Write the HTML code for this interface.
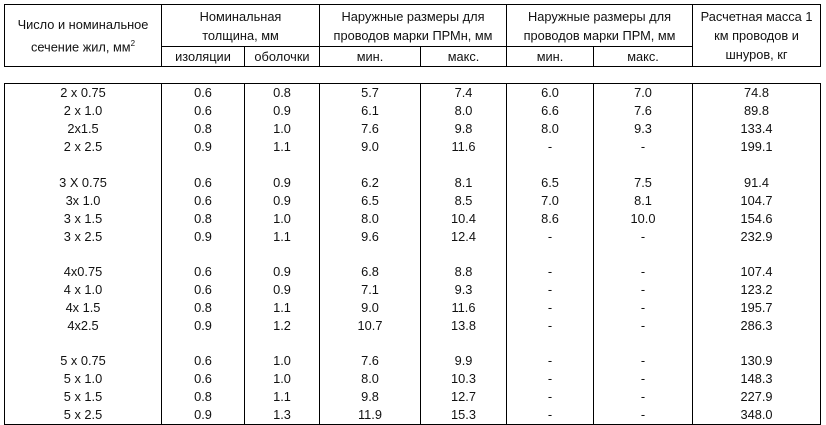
<!DOCTYPE html>
<html><head><meta charset="utf-8"><style>
body{margin:0;background:#fff;width:826px;height:424px;overflow:hidden;font-family:"Liberation Sans","DejaVu Sans",sans-serif;font-size:12.8px;color:#111}
table{position:absolute;left:4px;border-collapse:collapse;table-layout:fixed;width:817px}
td{border:1px solid #000;text-align:center;padding:0;vertical-align:middle;line-height:18px}
#h{top:4px}
#h td{line-height:19px}
#b{top:83px}
#b td{border-top:1px solid #000;border-bottom:1px solid #000}
#b tr.r td{border-top:none;border-bottom:none}
#b tr.f td{border-top:1px solid #000}
#b tr.l td{border-bottom:1px solid #000}
</style></head><body>
<table id="h">
<colgroup><col style="width:157px"><col style="width:83px"><col style="width:75px"><col style="width:101px"><col style="width:86px"><col style="width:87px"><col style="width:99px"><col style="width:128px"></colgroup>
<tr style="height:42px"><td rowspan="2">Число и номинальное<br>сечение жил, мм<sup style="font-size:8px">2</sup></td><td colspan="2">Номинальная<br>толщина, мм</td><td colspan="2">Наружные размеры для<br>проводов марки ПРМн, мм</td><td colspan="2">Наружные размеры для<br>проводов марки ПРМ, мм</td><td rowspan="2">Расчетная масса 1<br>км проводов и<br>шнуров, кг</td></tr>
<tr style="height:19px"><td>изоляции</td><td>оболочки</td><td>мин.</td><td>макс.</td><td>мин.</td><td>макс.</td></tr>
</table>
<table id="b">
<colgroup><col style="width:157px"><col style="width:83px"><col style="width:75px"><col style="width:101px"><col style="width:86px"><col style="width:87px"><col style="width:99px"><col style="width:128px"></colgroup>
<tr class="r f" style="height:18px"><td>2 x 0.75</td><td>0.6</td><td>0.8</td><td>5.7</td><td>7.4</td><td>6.0</td><td>7.0</td><td>74.8</td></tr>
<tr class="r" style="height:18px"><td>2 x 1.0</td><td>0.6</td><td>0.9</td><td>6.1</td><td>8.0</td><td>6.6</td><td>7.6</td><td>89.8</td></tr>
<tr class="r" style="height:18px"><td>2x1.5</td><td>0.8</td><td>1.0</td><td>7.6</td><td>9.8</td><td>8.0</td><td>9.3</td><td>133.4</td></tr>
<tr class="r" style="height:18px"><td>2 x 2.5</td><td>0.9</td><td>1.1</td><td>9.0</td><td>11.6</td><td>-</td><td>-</td><td>199.1</td></tr>
<tr class="r" style="height:18px"><td></td><td></td><td></td><td></td><td></td><td></td><td></td><td></td></tr>
<tr class="r" style="height:18px"><td>3 X 0.75</td><td>0.6</td><td>0.9</td><td>6.2</td><td>8.1</td><td>6.5</td><td>7.5</td><td>91.4</td></tr>
<tr class="r" style="height:18px"><td>3x 1.0</td><td>0.6</td><td>0.9</td><td>6.5</td><td>8.5</td><td>7.0</td><td>8.1</td><td>104.7</td></tr>
<tr class="r" style="height:18px"><td>3 x 1.5</td><td>0.8</td><td>1.0</td><td>8.0</td><td>10.4</td><td>8.6</td><td>10.0</td><td>154.6</td></tr>
<tr class="r" style="height:18px"><td>3 x 2.5</td><td>0.9</td><td>1.1</td><td>9.6</td><td>12.4</td><td>-</td><td>-</td><td>232.9</td></tr>
<tr class="r" style="height:17px"><td></td><td></td><td></td><td></td><td></td><td></td><td></td><td></td></tr>
<tr class="r" style="height:18px"><td>4x0.75</td><td>0.6</td><td>0.9</td><td>6.8</td><td>8.8</td><td>-</td><td>-</td><td>107.4</td></tr>
<tr class="r" style="height:18px"><td>4 x 1.0</td><td>0.6</td><td>0.9</td><td>7.1</td><td>9.3</td><td>-</td><td>-</td><td>123.2</td></tr>
<tr class="r" style="height:17px"><td>4x 1.5</td><td>0.8</td><td>1.1</td><td>9.0</td><td>11.6</td><td>-</td><td>-</td><td>195.7</td></tr>
<tr class="r" style="height:18px"><td>4x2.5</td><td>0.9</td><td>1.2</td><td>10.7</td><td>13.8</td><td>-</td><td>-</td><td>286.3</td></tr>
<tr class="r" style="height:17px"><td></td><td></td><td></td><td></td><td></td><td></td><td></td><td></td></tr>
<tr class="r" style="height:18px"><td>5 x 0.75</td><td>0.6</td><td>1.0</td><td>7.6</td><td>9.9</td><td>-</td><td>-</td><td>130.9</td></tr>
<tr class="r" style="height:18px"><td>5 x 1.0</td><td>0.6</td><td>1.0</td><td>8.0</td><td>10.3</td><td>-</td><td>-</td><td>148.3</td></tr>
<tr class="r" style="height:18px"><td>5 x 1.5</td><td>0.8</td><td>1.1</td><td>9.8</td><td>12.7</td><td>-</td><td>-</td><td>227.9</td></tr>
<tr class="r l" style="height:18px"><td>5 x 2.5</td><td>0.9</td><td>1.3</td><td>11.9</td><td>15.3</td><td>-</td><td>-</td><td>348.0</td></tr>
</table>
</body></html>
